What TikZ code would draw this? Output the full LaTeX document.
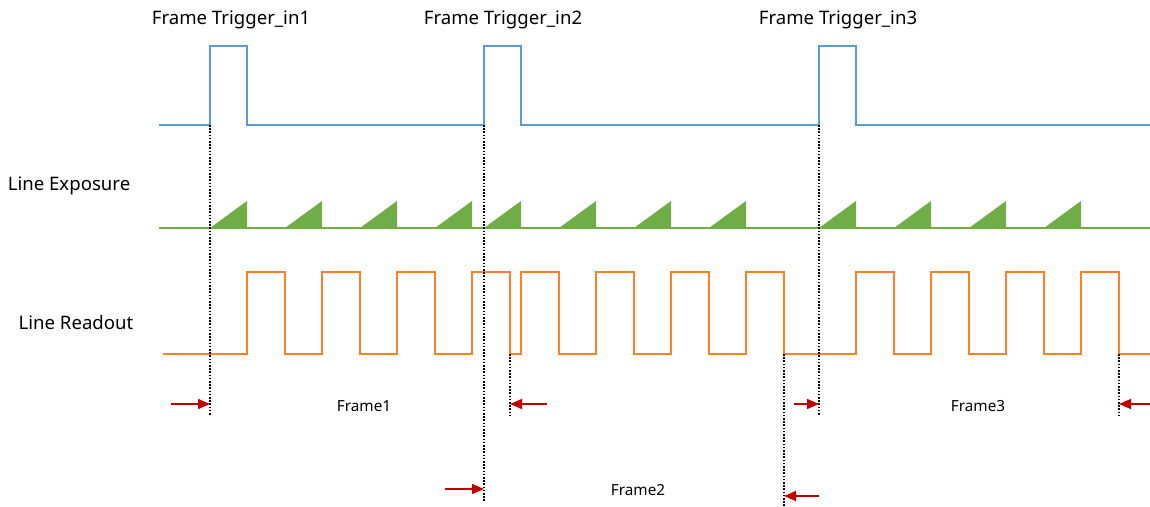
\documentclass[tikz,border=0pt]{standalone}
\usepackage{fontspec}
\setmainfont{Noto Sans}
\usetikzlibrary{arrows.meta}
\definecolor{trigblue}{RGB}{91,155,213}
\definecolor{expgreen}{RGB}{112,173,71}
\definecolor{readorange}{RGB}{255,127,39}
\definecolor{arrred}{RGB}{192,0,0}
\begin{document}
\begin{tikzpicture}[x=1pt,y=-1pt,
  trig/.style={draw=trigblue,line width=1.5pt},
  expline/.style={draw=expgreen,line width=1.5pt},
  expfill/.style={fill=expgreen},
  readline/.style={draw=readorange,line width=2pt,line join=miter},
  vdot/.style={draw=black,line width=1.4pt,dash pattern=on 1.6pt off 1.6pt},
  marker/.style={draw=arrred,line width=1.4pt,-{Triangle[length=12pt,width=10pt]}},
  biglabel/.style={font=\fontsize{18.6}{22}\selectfont,inner sep=0pt},
  smalllabel/.style={font=\fontsize{15.3}{18}\selectfont,inner sep=0pt}]
\useasboundingbox (0,0) rectangle (1150,506);
% labels
\node[biglabel] (t1) at (231,20) {Frame Trigger\_in1};
\node[biglabel] (t2) at (503,20) {Frame Trigger\_in2};
\node[biglabel] (t3) at (838,20) {Frame Trigger\_in3};
\node[biglabel] (le) at (69,186) {Line Exposure};
\node[biglabel] (lr) at (76,323) {Line Readout};
\node[smalllabel] (f1) at (364,406) {Frame1};
\node[smalllabel] (f2) at (638,490) {Frame2};
\node[smalllabel] (f3) at (978,406) {Frame3};
% trigger signal
\draw[trig] (159,125) -- (210,125) -- (210,46) -- (247,46) -- (247,125) -- (484,125) -- (484,46) -- (521,46) -- (521,125) -- (819,125) -- (819,46) -- (856,46) -- (856,125) -- (1150,125);
% exposure
\draw[expline] (159,228) -- (1150,228);
\foreach \s in {210,285,360,435,484,559,634,709,819,894,969,1044}
  \fill[expfill] (\s,228) -- (\s+37,201) -- (\s+37,228) -- cycle;
% readout
\draw[readline] (163,354)
  -- (247,354) -- (247,272) -- (285,272) -- (285,354)
  -- (322,354) -- (322,272) -- (360,272) -- (360,354)
  -- (397,354) -- (397,272) -- (435,272) -- (435,354)
  -- (472,354) -- (472,272) -- (510,272) -- (510,354)
  -- (521,354) -- (521,272) -- (559,272) -- (559,354)
  -- (596,354) -- (596,272) -- (634,272) -- (634,354)
  -- (671,354) -- (671,272) -- (709,272) -- (709,354)
  -- (746,354) -- (746,272) -- (784,272) -- (784,354)
  -- (856,354) -- (856,272) -- (894,272) -- (894,354)
  -- (931,354) -- (931,272) -- (969,272) -- (969,354)
  -- (1006,354) -- (1006,272) -- (1044,272) -- (1044,354)
  -- (1081,354) -- (1081,272) -- (1119,272) -- (1119,354)
  -- (1150,354);
% dotted markers
\coordinate (d1t) at (210,125); \coordinate (d1b) at (210,415);
\coordinate (d2t) at (484,125); \coordinate (d2b) at (484,502);
\coordinate (d3t) at (510,354); \coordinate (d3b) at (510,415);
\coordinate (d4t) at (784,354); \coordinate (d4b) at (784,506);
\coordinate (d5t) at (819,125); \coordinate (d5b) at (819,415);
\coordinate (d6t) at (1119,354); \coordinate (d6b) at (1119,415);
\draw[vdot] (d1t) -- (d1b);
\draw[vdot] (d2t) -- (d2b);
\draw[vdot] (d3t) -- (d3b);
\draw[vdot] (d4t) -- (d4b);
\draw[vdot] (d5t) -- (d5b);
\draw[vdot] (d6t) -- (d6b);
% frame arrows
\coordinate (a1s) at (171,404); \coordinate (a1e) at (210,404);
\coordinate (a2s) at (547,404); \coordinate (a2e) at (510,404);
\coordinate (a3s) at (794,404); \coordinate (a3e) at (819,404);
\coordinate (a4s) at (1150,404); \coordinate (a4e) at (1119,404);
\coordinate (a5s) at (445,489); \coordinate (a5e) at (484,489);
\coordinate (a6s) at (819,496); \coordinate (a6e) at (784,496);
\draw[marker] (a1s) -- (a1e);
\draw[marker] (a2s) -- (a2e);
\draw[marker] (a3s) -- (a3e);
\draw[marker] (a4s) -- (a4e);
\draw[marker] (a5s) -- (a5e);
\draw[marker] (a6s) -- (a6e);
\end{tikzpicture}
\end{document}
